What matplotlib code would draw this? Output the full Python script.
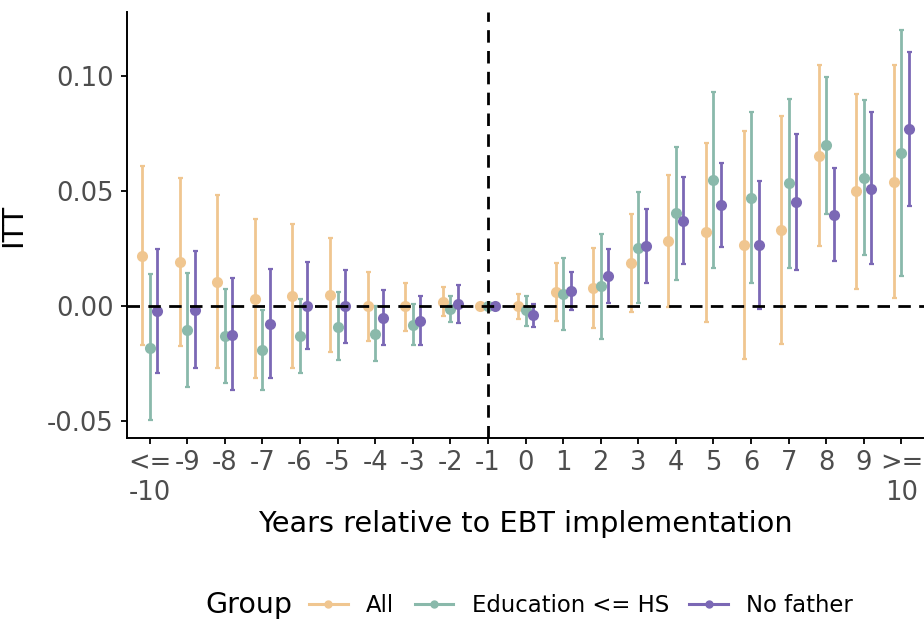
import matplotlib
matplotlib.use("Agg")
import matplotlib.pyplot as plt
from matplotlib.lines import Line2D
import numpy as np

plt.rcParams['font.family'] = ['DejaVu Sans']

# Event-time categories (years relative to EBT implementation)
categories = ["<=\n-10", "-9", "-8", "-7", "-6", "-5", "-4", "-3", "-2", "-1",
              "0", "1", "2", "3", "4", "5", "6", "7", "8", "9", ">=\n10"]

groups = ["All", "Education <= HS", "No father"]
colors = ["#F0C690", "#8AB9AB", "#7B68B5"]

# Point estimates
itt_all = [0.0217, 0.0191, 0.0104, 0.0032, 0.0042, 0.0046, 0.0000, 0.0000, 0.0019, 0.0,
           0.0000, 0.0059, 0.0080, 0.0187, 0.0283, 0.0320, 0.0264, 0.0329, 0.0654, 0.0499, 0.0539]
itt_edu = [-0.0183, -0.0106, -0.0132, -0.0191, -0.0132, -0.0090, -0.0120, -0.0081, -0.0012, 0.0,
           -0.0019, 0.0051, 0.0086, 0.0254, 0.0403, 0.0546, 0.0471, 0.0533, 0.0699, 0.0558, 0.0664]
itt_nof = [-0.0022, -0.0016, -0.0125, -0.0077, 0.0001, -0.0001, -0.0051, -0.0064, 0.0010, 0.0,
           -0.0039, 0.0067, 0.0129, 0.0261, 0.0371, 0.0438, 0.0264, 0.0452, 0.0396, 0.0510, 0.0768]

# Upper confidence bounds
hi_all = [0.0610, 0.0558, 0.0481, 0.0380, 0.0355, 0.0296, 0.0146, 0.0100, 0.0083, 0.0,
          0.0051, 0.0186, 0.0254, 0.0400, 0.0571, 0.0710, 0.0762, 0.0826, 0.1046, 0.0922, 0.1049]
hi_edu = [0.0138, 0.0143, 0.0075, -0.0016, 0.0030, 0.0059, 0.0000, 0.0010, 0.0045, 0.0,
          0.0045, 0.0209, 0.0313, 0.0494, 0.0691, 0.0930, 0.0842, 0.0900, 0.0997, 0.0894, 0.1199]
hi_nof = [0.0248, 0.0239, 0.0122, 0.0162, 0.0193, 0.0155, 0.0071, 0.0045, 0.0093, 0.0,
          0.0010, 0.0148, 0.0246, 0.0420, 0.0559, 0.0620, 0.0542, 0.0748, 0.0599, 0.0843, 0.1103]

# Lower confidence bounds
lo_all = [-0.0171, -0.0174, -0.0268, -0.0313, -0.0271, -0.0200, -0.0152, -0.0109, -0.0045, 0.0,
          -0.0057, -0.0067, -0.0096, -0.0025, -0.0004, -0.0070, -0.0230, -0.0167, 0.0262, 0.0075, 0.0035]
lo_edu = [-0.0497, -0.0352, -0.0335, -0.0364, -0.0290, -0.0235, -0.0238, -0.0171, -0.0070, 0.0,
          -0.0086, -0.0103, -0.0145, 0.0013, 0.0114, 0.0164, 0.0100, 0.0167, 0.0401, 0.0222, 0.0132]
lo_nof = [-0.0290, -0.0268, -0.0367, -0.0312, -0.0187, -0.0159, -0.0171, -0.0171, -0.0074, 0.0,
          -0.0090, -0.0017, 0.0012, 0.0101, 0.0184, 0.0257, -0.0014, 0.0158, 0.0194, 0.0181, 0.0436]

est = [itt_all, itt_edu, itt_nof]
lows = [lo_all, lo_edu, lo_nof]
highs = [hi_all, hi_edu, hi_nof]
offsets = [-0.2, 0.0, 0.2]

W, H = 924, 622
fig = plt.figure(figsize=(W / 100, H / 100), dpi=100)
ax = fig.add_axes([127 / W, 1 - 438 / H, (W - 127) / W, 426 / H])

xpos = np.arange(len(categories))
ref_idx = categories.index("-1")

for g, col, off, y, lo, hi in zip(groups, colors, offsets, est, lows, highs):
    y = np.asarray(y)
    lo = np.asarray(lo)
    hi = np.asarray(hi)
    x = xpos + off
    has_ci = (hi - lo) > 0
    ax.errorbar(x[has_ci], y[has_ci], yerr=[y[has_ci] - lo[has_ci], hi[has_ci] - y[has_ci]],
                fmt='none', ecolor=col, elinewidth=2.0, capsize=1.8, capthick=1.6, zorder=2)
    ax.plot(x, y, 'o', color=col, markersize=8, markeredgewidth=0, zorder=3)

ax.axhline(0, color='black', linestyle=(0, (4.5, 3)), linewidth=2.0, zorder=4)
ax.axvline(xpos[ref_idx], color='black', linestyle=(0, (4.5, 3)), linewidth=2.0, zorder=4)

ax.set_xlim(-0.6, len(categories) - 0.4)
ax.set_ylim(-0.0574, 0.1278)
ax.set_xticks(xpos)
ax.set_xticklabels(categories, linespacing=1.15)
yt = [-0.05, 0.0, 0.05, 0.10]
ax.set_yticks(yt)
ax.set_yticklabels([f"{v:.2f}" for v in yt])

for s in ['top', 'right']:
    ax.spines[s].set_visible(False)
for s in ['left', 'bottom']:
    ax.spines[s].set_linewidth(1.4)
ax.tick_params(axis='both', length=4, width=1.3, color='black',
               labelsize=18.5, labelcolor='#4D4D4D')
ax.tick_params(axis='y', pad=5.5)
ax.tick_params(axis='x', pad=5)

ax.set_xlabel("Years relative to EBT implementation", fontsize=20.7, labelpad=3)
ax.set_ylabel("ITT", fontsize=20.7, labelpad=14)

# Legend with the title placed to its left
handles = [Line2D([0], [0], color=c, lw=2.2, marker='o', markersize=5) for c in colors]
fig.text(205 / W, 1 - 605 / H, "Group", fontsize=20.5, ha='left', va='center')
fig.legend(handles, groups, loc='center left', bbox_to_anchor=(309 / W, 1 - 605 / H),
           ncol=3, frameon=False, fontsize=16.4, handlelength=1.7, handletextpad=0.8,
           columnspacing=0.9, borderpad=0, borderaxespad=0)

fig.savefig("out.png", dpi=100)
